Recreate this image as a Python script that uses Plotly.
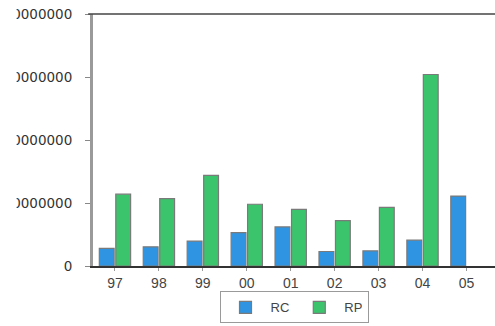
import plotly.graph_objects as go

years = ["97", "98", "99", "00", "01", "02", "03", "04", "05"]
rc_values = [2800000, 3050000, 3950000, 5300000, 6200000, 2300000, 2400000, 4100000, 11100000]
rp_values = [11400000, 10700000, 14400000, 9800000, 9000000, 7200000, 9300000, 30400000, None]
y_ticks = [0, 10000000, 20000000, 30000000, 40000000]
y_tick_text = ["0", "10000000", "20000000", "30000000", "40000000"]

RC_COLOR = "#2f94e2"
RP_COLOR = "#3cc46c"
EDGE = "#7a7a7a"

fig = go.Figure()
fig.add_trace(go.Bar(
    x=years, y=rc_values, name="RC",
    marker=dict(color=RC_COLOR, line=dict(color=EDGE, width=1.2)),
))
fig.add_trace(go.Bar(
    x=years, y=rp_values, name="RP",
    marker=dict(color=RP_COLOR, line=dict(color=EDGE, width=1.2)),
))

fig.update_layout(
    width=495, height=326,
    margin=dict(l=93, r=0, t=14, b=60, autoexpand=False),
    paper_bgcolor="white", plot_bgcolor="white",
    barmode="group", bargap=0.25, bargroupgap=0.1,
    showlegend=True,
    legend=dict(
        orientation="h", x=0.5, xanchor="center",
        yref="container", y=0.008, yanchor="bottom",
        bordercolor="#9a9a9a", borderwidth=1,
        font=dict(family="Liberation Sans, Arial, sans-serif", size=13, color="#444"),
        itemwidth=40, tracegroupgap=0,
    ),
    xaxis=dict(
        type="category", range=[-0.5, 8.65],
        showline=True, linecolor="#333", linewidth=1.5,
        ticks="outside", ticklen=3, tickcolor="#999",
        showgrid=False, automargin=False,
        tickfont=dict(family="Liberation Sans, Arial, sans-serif", size=14, color="#444"),
    ),
    yaxis=dict(
        range=[0, 40000000], tickvals=y_ticks, ticktext=y_tick_text,
        showline=True, linecolor="#9a9a9a", linewidth=3,
        ticks="outside", ticklen=5, tickcolor="#888",
        showgrid=False, zeroline=False, automargin=False,
        ticklabelstandoff=10,
        tickfont=dict(family="DejaVu Sans, Verdana, sans-serif", size=13.5, color="#333"),
    ),
    shapes=[
        # top frame line
        dict(type="line", xref="paper", yref="paper", x0=-0.012, x1=1, y0=1, y1=1,
             line=dict(color="#444", width=1.5)),
        # clipped left edge of the page
        dict(type="rect", xref="paper", yref="paper", x0=-0.3, x1=-0.19, y0=-0.2, y1=1.1,
             fillcolor="white", line=dict(width=0), layer="above"),
    ],
)

fig.write_html("out.html")
